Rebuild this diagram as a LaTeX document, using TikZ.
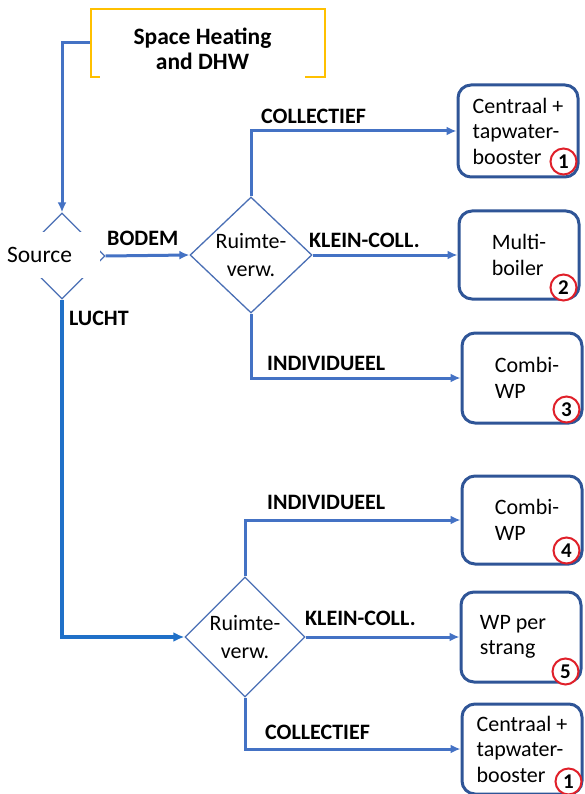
\documentclass[tikz,border=0pt]{standalone}
\usepackage{fontspec}
\setmainfont{Carlito}
\usetikzlibrary{shapes.geometric,arrows.meta,calc}
\definecolor{connc}{HTML}{4472C4}
\definecolor{boxc}{HTML}{2F5597}
\definecolor{diac}{HTML}{4A6FB5}
\definecolor{luchtc}{HTML}{1F70C8}
\definecolor{goldc}{HTML}{FFC000}
\definecolor{numred}{HTML}{E0202A}
\begin{document}
\begin{tikzpicture}[x=1pt,y=-1pt,
  connector/.style={draw=connc, line width=3pt, -{Latex[length=10pt,width=9pt]}},
  luchtline/.style={draw=luchtc, line width=3.6pt, -{Latex[length=11pt,width=10pt]}},
  dia/.style={diamond, draw=diac, line width=1.3pt, inner sep=0pt, fill=white,
    font=\fontsize{22}{28}\selectfont, align=center},
  outbox/.style={draw=boxc, line width=3pt, rounded corners=13pt, fill=white,
    minimum width=120pt, inner sep=0pt, align=left, font=\fontsize{22}{25.5}\selectfont},
  lbl/.style={anchor=west, inner sep=0pt, font=\bfseries\fontsize{22}{25}\selectfont},
  num/.style={circle, draw=numred, line width=2pt, fill=white, minimum size=26pt,
    inner sep=0pt, font=\bfseries\fontsize{21}{21}\selectfont}
]
\useasboundingbox (0,0) rectangle (584,794);

% title frame
\node[draw=goldc, line width=2.8pt, minimum width=234pt, minimum height=68pt, inner sep=0pt] (frame) at (208,43) {};

% source diamond
\node[dia, minimum width=86pt, minimum height=86pt] (src) at (62,256) {};

% decision diamonds
\node[dia, minimum width=122pt, minimum height=116pt] (rd1) at (251,255) {Ruimte-\\verw.};
\node[dia, minimum width=120pt, minimum height=120pt] (rd2) at (245,637) {Ruimte-\\verw.};

% option boxes
\node[outbox, minimum height=92pt] (b1) at (518,131) {Centraal +\\tapwater-\\booster\hspace{26pt}};
\node[outbox, minimum height=88pt] (b2) at (519,255) {Multi-\\boiler};
\node[outbox, minimum height=90pt] (b3) at (522,378) {\hspace*{10pt}Combi-\\\hspace*{10pt}WP};
\node[outbox, minimum height=88pt] (b4) at (522,520) {\hspace*{10pt}Combi-\\\hspace*{10pt}WP};
\node[outbox, minimum height=90pt] (b5) at (521,637) {WP per\hspace*{16pt}\\strang};
\node[outbox, minimum height=90pt] (b6) at (522,749) {Centraal +\\tapwater-\\booster\hspace{26pt}};

% number circles
\node[num] (n1) at ($(b1.south east)+(-16,-17)$) {1};
\node[num] (n2) at ($(b2.south east)+(-17,-13)$) {2};
\node[num] (n3) at ($(b3.south east)+(-17,-15)$) {3};
\node[num] (n4) at ($(b4.south east)+(-17,-15)$) {4};
\node[num] (n5) at ($(b5.south east)+(-17,-12)$) {5};
\node[num] (n6) at ($(b6.south east)+(-15,-14)$) {1};

% connectors
\draw[connector] (frame.west) -| (src.north);
\draw[connector] (src.east) -- (rd1.west);
\draw[connector] (rd1.north) |- (b1.west);
\draw[connector] (rd1.east) -- (b2.west);
\draw[connector] (rd1.south) |- (b3.west);
\draw[luchtline] (src.south) |- (rd2.west);
\draw[connector] (rd2.north) |- (b4.west);
\draw[connector] (rd2.east) -- (b5.west);
\draw[connector] (rd2.south) |- (b6.west);

% white covers with text (overlapping the frame and the source diamond)
\node[fill=white, minimum width=205pt, minimum height=64pt, inner sep=0pt, align=center,
  font=\bfseries\fontsize{23.5}{25}\selectfont] (title) at (202.5,49) {Space Heating\\and DHW};
\node[fill=white, minimum width=100pt, minimum height=46pt, inner sep=0pt, text width=86pt,
  align=left, font=\fontsize{23.5}{25}\selectfont] (srclbl) at (50,255) {Source};

% connector labels
\node[lbl] (lbodem) at (107,238) {BODEM};
\node[lbl] (lcoll1) at (261,116) {COLLECTIEF};
\node[lbl] (lklein1) at (309,240) {KLEIN-COLL.};
\node[lbl] (lind1) at (267,363) {INDIVIDUEEL};
\node[lbl] (llucht) at (69,318) {LUCHT};
\node[lbl] (lind2) at (267,502) {INDIVIDUEEL};
\node[lbl] (lklein2) at (305,618) {KLEIN-COLL.};
\node[lbl] (lcoll2) at (265,732) {COLLECTIEF};
\end{tikzpicture}
\end{document}
